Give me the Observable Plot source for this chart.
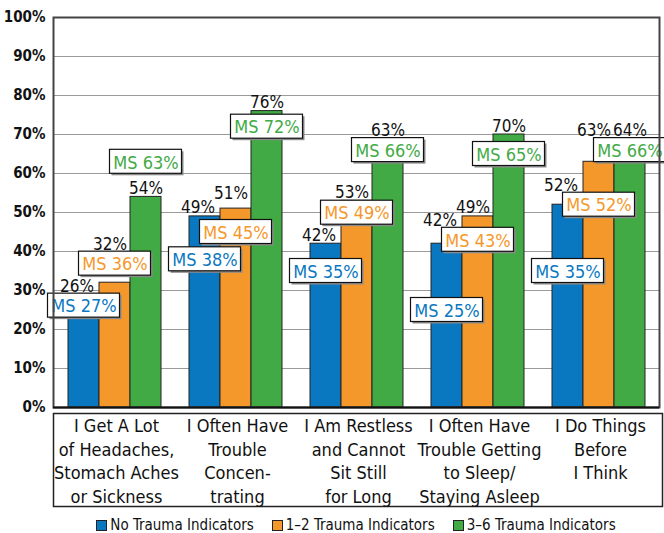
<!DOCTYPE html>
<html>
<head>
<meta charset="utf-8">
<script src="https://cdn.jsdelivr.net/npm/d3@7"></script>
<script src="https://cdn.jsdelivr.net/npm/@observablehq/plot@0.6"></script>
<style>
  html, body { margin: 0; padding: 0; background: #fff; }
  body { width: 664px; height: 533px; overflow: hidden; font-family: "Liberation Sans Narrow", "DejaVu Sans Condensed", "Roboto", sans-serif; }
  #chart svg { display: block; overflow: visible; }
  #legend { display: flex; justify-content: center; align-items: center; gap: 18px; padding: 7px 5px 0 53px; font-size: 15px; color: #111; }
  #legend .item { display: flex; align-items: center; gap: 3px; }
  #legend .sw { width: 9px; height: 9px; border: 1px solid #222; box-sizing: content-box; }
</style>
</head>
<body>
<div id="chart"></div>
<script>
// ---- data ----
const categories = [
  "I Get A Lot\nof Headaches,\nStomach Aches\nor Sickness",
  "I Often Have\nTrouble\nConcen-\ntrating",
  "I Am Restless\nand Cannot\nSit Still\nfor Long",
  "I Often Have\nTrouble Getting\nto Sleep/\nStaying Asleep",
  "I Do Things\nBefore\nI Think"
];
const seriesNames = ["No Trauma Indicators", "1\u20132 Trauma Indicators", "3\u20136 Trauma Indicators"];
const seriesColors = ["#0a78c0", "#f5982c", "#42aa45"];
const noTrauma   = [26, 49, 42, 42, 52];
const trauma12   = [32, 51, 53, 49, 63];
const trauma36   = [54, 76, 63, 70, 64];
const msNoTrauma = [27, 38, 35, 25, 35];
const ms12       = [36, 45, 49, 43, 52];
const ms36       = [63, 72, 66, 65, 66];
const yTicks     = [0, 10, 20, 30, 40, 50, 60, 70, 80, 90, 100];

// ---- table ----
const values = [noTrauma, trauma12, trauma36];
const msValues = [msNoTrauma, ms12, ms36];
const rows = [];
categories.forEach((cat, c) => {
  seriesNames.forEach((s, i) => {
    rows.push({cat, c, s: i, v: values[i][c], ms: msValues[i][c], my: msValues[i][c]});
  });
});
const rowAt = (c, s) => rows[c * 3 + s];

// ---- label layout (collision avoidance, in y-data units; 3.9 px per unit) ----
const K = 3.9;
const G0 = 3 / K;              // gap between anchor and glyph bottom
const GH = 13 / K;             // glyph height
const BOX_H = 12 / K;          // half height of MS box
const GAP = 2 / K, GAPB = 3 / K;
const glyph = ly => [ly + G0, ly + G0 + GH];
const hits = (ly, m) => { const [lo, hi] = glyph(ly); return lo < m + BOX_H && hi > m - BOX_H; };
rows.forEach(r => {
  let ly = r.v;
  const nb = r.s < 2 ? rowAt(r.c, r.s + 1) : null;
  if (hits(ly, r.my)) {
    ly = r.my + BOX_H + GAP - G0;
    if (nb) {
      const o = glyph(ly)[1] + GAPB - (nb.my - BOX_H);
      if (o > 0) { r.my -= o / 2; nb.my += o / 2; ly -= o / 2; }
    }
  } else if (nb && hits(ly, nb.my)) {
    const o = glyph(ly)[1] + GAPB - (nb.my - BOX_H);
    if (o < 1.5) nb.my += o;
    else ly = nb.my + BOX_H + GAP - G0;
  }
  if (r.s === 1) {
    const p = rowAt(r.c, 0);
    const [plo, phi] = glyph(p.ly), [lo, hi] = glyph(ly);
    if (lo < phi - 0.5 && hi > plo) ly = phi + 0.3 - G0;
  }
  r.ly = ly;
});

const FONT = '"Liberation Sans Narrow", "DejaVu Sans Condensed", "Roboto", sans-serif';
const W = 664;
const BAR = 31;           // bar width within a group band (px)
const BOXW = 72;          // MS box width (px)
const LDX = [-7, -5, 0];  // value label nudge (px)
const xOpts = {domain: categories, paddingInner: 0.233, paddingOuter: 0.1165, axis: null};

const marks = [
  Plot.gridY(yTicks, {stroke: "#9a9a9a", strokeOpacity: 1, strokeWidth: 1}),
  Plot.axisY(yTicks, {tickFormat: d => d + "%", tickSize: 0, tickPadding: 8, fontSize: 15, fill: "#111", fontWeight: "bold"}),
];
seriesNames.forEach((s, i) => {
  const d = rows.filter(r => r.s === i);
  marks.push(Plot.barY(d, {x: "cat", y: "v", fill: seriesColors[i], stroke: "#222", strokeWidth: 1,
    insetLeft: BAR * i, insetRight: BAR * (2 - i)}));
});
seriesNames.forEach((s, i) => {
  const d = rows.filter(r => r.s === i);
  marks.push(Plot.text(d, {x: "cat", y: "ly", text: r => r.v + "%", dx: BAR * (i - 1) + LDX[i], dy: -3,
    lineAnchor: "bottom", fontSize: 17, fill: "#111"}));
});
seriesNames.forEach((s, i) => {
  const d = rows.filter(r => r.s === i);
  const off = (BOXW - BAR) / 2;
  const box = {x: "cat", y1: "my", y2: "my", insetLeft: BAR * i - off, insetRight: BAR * (2 - i) - off, insetTop: -12, insetBottom: -12};
  marks.push(Plot.barY(d, {...box, fill: "#8a8a8a", dx: 2, dy: 2}));
  marks.push(Plot.barY(d, {...box, fill: "white", stroke: "#111", strokeWidth: 1.2}));
  marks.push(Plot.text(d, {x: "cat", y: "my", text: r => "MS " + r.ms + "%", dx: BAR * (i - 1), dy: 1,
    fontSize: 18, fill: seriesColors[i]}));
});
marks.push(Plot.frame({stroke: "#444", strokeWidth: 2}));
marks.push(Plot.ruleY([0], {stroke: "#111", strokeWidth: 2}));

const main = Plot.plot({
  width: W, height: 410,
  marginLeft: 53, marginRight: 5, marginTop: 17, marginBottom: 3,
  x: xOpts,
  y: {domain: [0, 100], axis: null},
  style: {fontFamily: FONT, background: "white", overflow: "visible"},
  marks
});

const labels = Plot.plot({
  width: W, height: 99,
  marginLeft: 53, marginRight: 2, marginTop: 3, marginBottom: 3,
  x: xOpts,
  y: {domain: [0, 1], axis: null},
  style: {fontFamily: FONT, background: "white", overflow: "visible"},
  marks: [
    Plot.frame({stroke: "#222", strokeWidth: 1.5}),
    Plot.text(categories, {x: d => d, frameAnchor: "top", lineAnchor: "top", dy: 2, lineHeight: 1.31,
      fontSize: 18, fill: "#111"})
  ]
});

const root = document.getElementById("chart");
root.appendChild(main);
root.appendChild(labels);

const legend = document.createElement("div");
legend.id = "legend";
seriesNames.forEach((s, i) => {
  const it = document.createElement("div");
  it.className = "item";
  const sw = document.createElement("span");
  sw.className = "sw";
  sw.style.background = seriesColors[i];
  const t = document.createElement("span");
  t.textContent = s;
  it.appendChild(sw); it.appendChild(t);
  legend.appendChild(it);
});
root.appendChild(legend);
</script>
</body>
</html>
